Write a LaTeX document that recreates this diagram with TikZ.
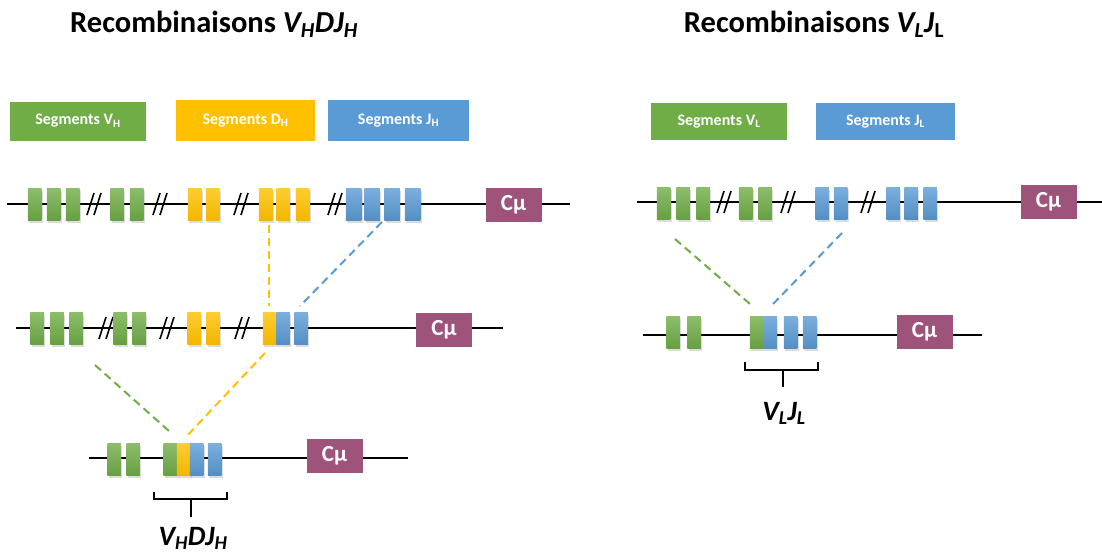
\documentclass[tikz,border=0pt]{standalone}
\usepackage{fontspec}
\setmainfont{Carlito}
\usetikzlibrary{shadows}
\definecolor{vgreen}{RGB}{112,173,71}
\definecolor{dyellow}{RGB}{255,192,0}
\definecolor{jblue}{RGB}{91,155,213}
\definecolor{cmu}{RGB}{158,84,122}
\tikzset{
  seg/.style={minimum width=13.5pt, minimum height=32pt, inner sep=0pt, draw=none,
    drop shadow={opacity=0.28, shadow xshift=1.5pt, shadow yshift=-2.5pt}},
  gseg/.style={seg, top color=vgreen!80!white, bottom color=vgreen!92!black},
  yseg/.style={seg, top color=dyellow!80!white, bottom color=dyellow!95!black},
  bseg/.style={seg, top color=jblue!80!white, bottom color=jblue!92!black},
  cmubox/.style={fill=cmu, text=white, minimum width=56pt, minimum height=34pt, inner sep=0pt,
    font=\fontsize{23}{25}\selectfont\bfseries},
  legend/.style={text=white, minimum height=39pt, inner sep=0pt,
    font=\fontsize{16}{18}\selectfont\bfseries},
  chrom/.style={line width=1.7pt, black},
  brkline/.style={line width=1.6pt, black},
  dsh/.style={line width=2pt, dash pattern=on 8pt off 5pt},
  brack/.style={line width=1.6pt, black},
  title/.style={font=\fontsize{30.5}{34}\selectfont\bfseries},
  lab/.style={font=\fontsize{28}{32}\selectfont\bfseries\itshape},
}
\newcommand\brkmark[2]{\draw[brkline] (#1-8,#2+11) -- (#1-1,#2-11) (#1-1,#2+11) -- (#1+6,#2-11);}
\begin{document}
\begin{tikzpicture}[x=1pt,y=-1pt]
\useasboundingbox (0,0) rectangle (1102,557);
% titles
\node[title] (t1) at (214,24) {Recombinaisons \textit{V\textsubscript{H}DJ\textsubscript{H}}};
\node[title] (t2) at (814,24) {Recombinaisons \textit{V\textsubscript{L}J}\textsubscript{L}};
% legends
\node[legend, fill=vgreen, minimum width=136pt] (lvh) at (78,121) {Segments V\textsubscript{H}};
\node[legend, fill=dyellow, minimum width=139pt, minimum height=41pt] (ldh) at (245.5,120.5) {Segments D\textsubscript{H}};
\node[legend, fill=jblue, minimum width=141pt, minimum height=41pt] (ljh) at (398.5,120.5) {Segments J\textsubscript{H}};
\node[legend, fill=vgreen, minimum width=136pt, minimum height=37pt] (lvl) at (719,121.5) {Segments V\textsubscript{L}};
\node[legend, fill=jblue, minimum width=139pt, minimum height=37pt] (ljl) at (885.5,121.5) {Segments J\textsubscript{L}};

% ===== left row 1 =====
\coordinate (a-l0) at (7,204); \coordinate (a-l1) at (570,204);
\draw[chrom] (a-l0) -- (a-l1);
\brkmark{95}{204}\brkmark{161}{204}\brkmark{242}{204}\brkmark{336}{204}
\foreach \n/\x in {1/34.5,2/53.5,3/72.5,4/117,5/136.5} \node[gseg] (a-g\n) at (\x,204) {};
\foreach \n/\x in {1/194.5,2/212.5,3/265.5,4/283,5/302.5} \node[yseg] (a-y\n) at (\x,204) {};
\foreach \n/\x in {1/353.5,2/372,3/392,4/412.5} \node[bseg, minimum width=15.5pt] (a-b\n) at (\x,204) {};
\node[cmubox] (a-c) at (513.5,205) {Cμ};

% ===== left row 2 =====
\coordinate (b-l0) at (16,328); \coordinate (b-l1) at (503,328);
\draw[chrom] (b-l0) -- (b-l1);
\brkmark{107}{328}\brkmark{168}{328}\brkmark{243}{328}
\foreach \n/\x in {1/37,2/57,3/76,4/120,5/139} \node[gseg] (b-g\n) at (\x,328) {};
\foreach \n/\x in {1/194,2/213,3/269.5} \node[yseg] (b-y\n) at (\x,328) {};
\foreach \n/\x in {1/283,2/301} \node[bseg] (b-b\n) at (\x,328) {};
\node[cmubox] (b-c) at (444,330) {Cμ};

% ===== left row 3 =====
\coordinate (c-l0) at (89,458); \coordinate (c-l1) at (408,458);
\draw[chrom] (c-l0) -- (c-l1);
\foreach \n/\x in {1/114,2/133,3/170} \node[gseg] (c-g\n) at (\x,459) {};
\node[yseg] (c-y1) at (183.5,459) {};
\foreach \n/\x in {1/196.5,2/214.5} \node[bseg] (c-b\n) at (\x,459) {};
\node[cmubox] (c-c) at (334.5,455.5) {Cμ};
\draw[brack] (154,492) -- (154,499) -- (227,499) -- (227,492) (191,499) -- (191,517);
\node[lab] (c-lab) at (193,538) {V\textsubscript{H}DJ\textsubscript{H}};

% dashed connectors left
\coordinate (d1a) at (269,225); \coordinate (d1b) at (269,306);
\coordinate (d2a) at (382,222); \coordinate (d2b) at (300,306);
\coordinate (d3a) at (95,365);  \coordinate (d3b) at (169,431);
\coordinate (d4a) at (265,353); \coordinate (d4b) at (185,438);
\draw[dsh, dyellow] (d1a) -- (d1b);
\draw[dsh, jblue] (d2a) -- (d2b);
\draw[dsh, vgreen] (d3a) -- (d3b);
\draw[dsh, dyellow] (d4a) -- (d4b);

% ===== right row 1 =====
\coordinate (r-l0) at (637,202); \coordinate (r-l1) at (1102,202);
\draw[chrom] (r-l0) -- (r-l1);
\brkmark{725}{202}\brkmark{789}{202}\brkmark{869}{202}
\foreach \n/\x in {1/663.5,2/683,3/703,4/745.5,5/765} \node[gseg] (r-g\n) at (\x,203) {};
\foreach \n/\x in {1/822,2/840.5,3/893,4/911,5/930} \node[bseg] (r-b\n) at (\x,203) {};
\node[cmubox] (r-c) at (1048.5,202) {Cμ};

% ===== right row 2 =====
\coordinate (s-l0) at (643,335); \coordinate (s-l1) at (982,335);
\draw[chrom] (s-l0) -- (s-l1);
\foreach \n/\x in {1/673,2/694,3/756.5} \node[gseg] (s-g\n) at (\x,332) {};
\foreach \n/\x in {1/770,2/790.5,3/809.5} \node[bseg] (s-b\n) at (\x,332) {};
\node[cmubox] (s-c) at (924.5,332) {Cμ};
\draw[brack] (745,362) -- (745,370) -- (818,370) -- (818,362) (783,370) -- (783,387);
\node[lab] (s-lab) at (784,413) {V\textsubscript{L}J\textsubscript{L}};

% dashed connectors right
\coordinate (e1a) at (675,239); \coordinate (e1b) at (750,304);
\coordinate (e2a) at (842,233); \coordinate (e2b) at (773,304);
\draw[dsh, vgreen] (e1a) -- (e1b);
\draw[dsh, jblue] (e2a) -- (e2b);
\end{tikzpicture}
\end{document}
